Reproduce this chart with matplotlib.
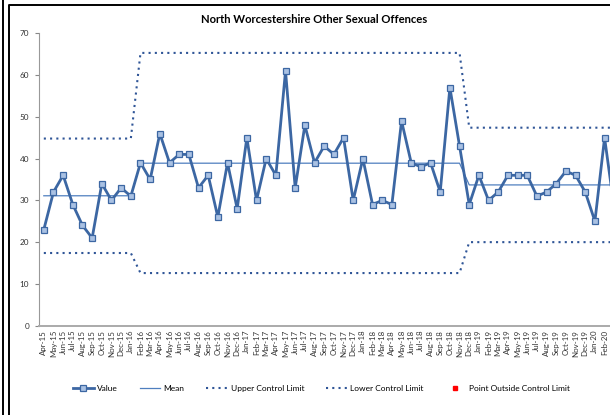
import numpy as np
import matplotlib
matplotlib.use("Agg")
import matplotlib.pyplot as plt
from matplotlib.lines import Line2D

plt.rcParams['font.family'] = ['Lato', 'DejaVu Sans']

# --- data ---
months = ['Apr-15', 'May-15', 'Jun-15', 'Jul-15', 'Aug-15', 'Sep-15', 'Oct-15', 'Nov-15', 'Dec-15',
          'Jan-16', 'Feb-16', 'Mar-16', 'Apr-16', 'May-16', 'Jun-16', 'Jul-16', 'Aug-16', 'Sep-16',
          'Oct-16', 'Nov-16', 'Dec-16',
          'Jan-17', 'Feb-17', 'Mar-17', 'Apr-17', 'May-17', 'Jun-17', 'Jul-17', 'Aug-17', 'Sep-17',
          'Oct-17', 'Nov-17', 'Dec-17',
          'Jan-18', 'Feb-18', 'Mar-18', 'Apr-18', 'May-18', 'Jun-18', 'Jul-18', 'Aug-18', 'Sep-18',
          'Oct-18', 'Nov-18', 'Dec-18',
          'Jan-19', 'Feb-19', 'Mar-19', 'Apr-19', 'May-19', 'Jun-19', 'Jul-19', 'Aug-19', 'Sep-19',
          'Oct-19', 'Nov-19', 'Dec-19',
          'Jan-20', 'Feb-20', 'Mar-20']

values = [23, 32, 36, 29, 24, 21, 34, 30, 33,
          31, 39, 35, 46, 39, 41, 41, 33, 36, 26, 39, 28,
          45, 30, 40, 36, 61, 33, 48, 39, 43, 41, 45, 30,
          40, 29, 30, 29, 49, 39, 38, 39, 32, 57, 43, 29,
          36, 30, 32, 36, 36, 36, 31, 32, 34, 37, 36, 32,
          25, 45, 28]

# process phases: (number of months, mean, upper limit, lower limit)
phase_len = [10, 34, 16]
phase_mean = [31.1, 38.9, 33.7]
phase_ucl = [44.8, 65.3, 47.4]
phase_lcl = [17.4, 12.6, 20.0]

mean = np.repeat(phase_mean, phase_len)
ucl = np.repeat(phase_ucl, phase_len)
lcl = np.repeat(phase_lcl, phase_len)

x = np.arange(len(months))

fig = plt.figure(figsize=(6.1, 4.15), dpi=100)
ax = fig.add_axes([0.0639, 0.2152, 0.951, 0.7046])

line_col = '#3C67A3'
ax.plot(x, values, color=line_col, lw=2.0, marker='s', ms=4.4,
        mfc='#A9C1E3', mec=line_col, mew=0.9, label='Value', zorder=4)
ax.plot(x, mean, color='#4F7FBF', lw=0.9, label='Mean', zorder=3)
ax.plot(x, ucl, color='#2F5597', lw=1.5, ls=(0, (1, 2)), label='Upper Control Limit')
ax.plot(x, lcl, color='#2F5597', lw=1.5, ls=(0, (1, 2)), label='Lower Control Limit')
ax.plot([], [], ls='none', marker='s', ms=3.5, color='red', label='Point Outside Control Limit')

ax.set_xlim(-0.5, len(months) - 0.5)
ax.set_ylim(0, 70)
ax.set_yticks(range(0, 71, 10))
# last month runs off the right edge of the picture, so its label is not shown
ax.set_xticks(x[:-1])
ax.set_xticklabels(months[:-1], rotation=90, fontsize=5.7, color='#333333')
ax.tick_params(axis='x', length=0, pad=3)
ax.tick_params(axis='y', length=3, width=0.8, color='#888888', labelsize=5.9,
               labelcolor='#333333', pad=4)

for s in ['top', 'right']:
    ax.spines[s].set_visible(False)
ax.spines['left'].set_color('#999999')
ax.spines['left'].set_linewidth(0.8)
ax.spines['bottom'].set_color('#AAAAAA')
ax.spines['bottom'].set_linewidth(1.4)

fig.text(0.515, 0.952, 'North Worcestershire Other Sexual Offences',
         ha='center', va='center', fontsize=8.1, fontweight='bold')

fig.legend(loc='center', bbox_to_anchor=(0.527, 0.063), ncol=5, frameon=False,
           fontsize=6.0, handlelength=2.5, columnspacing=2.6, handletextpad=0.4,
           numpoints=1)

# outer frame lines
fig.add_artist(Line2D([2.5 / 610, 2.5 / 610], [0, 1], color='black', lw=1.4,
                      transform=fig.transFigure))
fig.add_artist(Line2D([8.5 / 610, 8.5 / 610, 1], [0, 1 - 5.5 / 415, 1 - 5.5 / 415],
                      color='black', lw=1.4, transform=fig.transFigure))

fig.savefig('out.png', dpi=100)
